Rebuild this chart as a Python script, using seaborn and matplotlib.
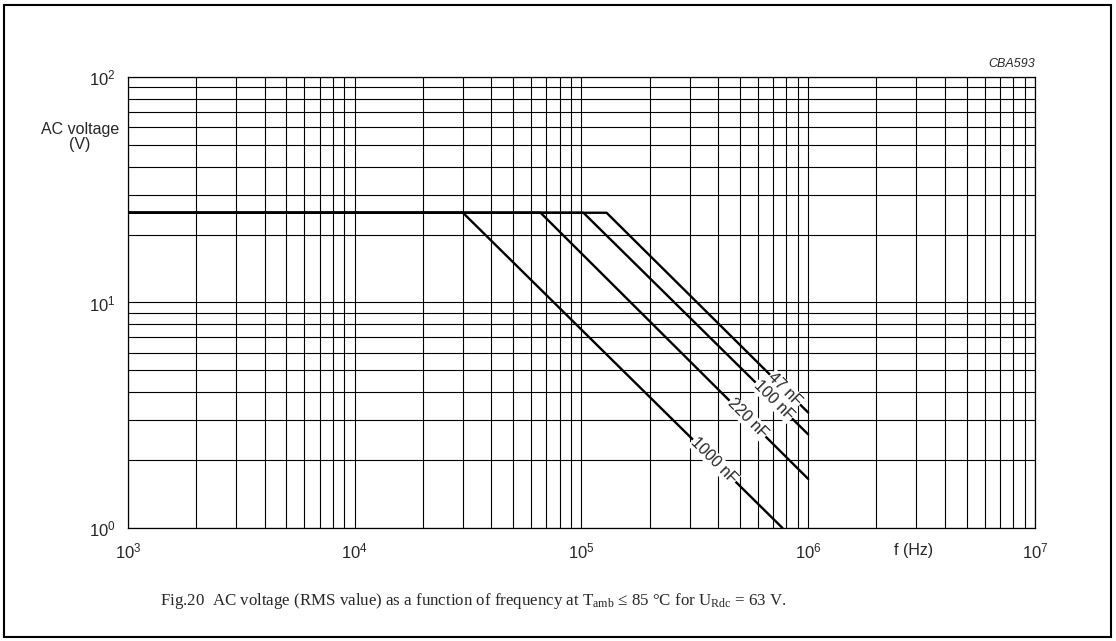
import numpy as np
import pandas as pd
import matplotlib
matplotlib.use("Agg")
import matplotlib.pyplot as plt
import matplotlib.ticker as mticker
from matplotlib.patches import Rectangle
import seaborn as sns

# curves: plateau at 25 V, then -1 slope down to the end point
capacitors = ["47 nF", "100 nF", "220 nF", "1000 nF"]
f_start = [1e3, 1e3, 1e3, 1e3]
v_plateau = [25, 25, 25, 25]
f_break = [1.29e5, 1.02e5, 6.6e4, 3.0e4]
f_end = [1e6, 1e6, 1e6, 7.7e5]
v_end = [3.25, 2.6, 1.65, 1.0]
label_f = [7.9e5, 7.05e5, 5.4e5, 3.85e5]

x_ticks = [1e3, 1e4, 1e5, 1e6, 1e7]
x_ticklabels = ["$\\mathregular{10^{3}}$", "$\\mathregular{10^{4}}$", "$\\mathregular{10^{5}}$",
                "$\\mathregular{10^{6}}$", "$\\mathregular{10^{7}}$"]
y_ticks = [1, 10, 100]
y_ticklabels = ["$\\mathregular{10^{0}}$", "$\\mathregular{10^{1}}$", "$\\mathregular{10^{2}}$"]

rows = []
for i, cap in enumerate(capacitors):
    rows.append((cap, 0, f_start[i], v_plateau[i]))
    rows.append((cap, 1, f_break[i], v_plateau[i]))
    rows.append((cap, 2, f_end[i], v_end[i]))
df = pd.DataFrame(rows, columns=["cap", "order", "f", "V"])

sns.set_style("white")
plt.rcParams["font.family"] = ["Liberation Sans", "DejaVu Sans"]
plt.rcParams["mathtext.default"] = "regular"

fig = plt.figure(figsize=(11.16, 6.41), dpi=100)
ax = fig.add_axes([0.1147, 0.1763, 0.8127, 0.7036])

ax.set_xscale("log")
ax.set_yscale("log")
ax.set_xlim(1e3, 1e7)
ax.set_ylim(1, 100)

ax.xaxis.set_major_locator(mticker.FixedLocator(x_ticks))
ax.xaxis.set_major_formatter(mticker.FixedFormatter(x_ticklabels))
ax.yaxis.set_major_locator(mticker.FixedLocator(y_ticks))
ax.yaxis.set_major_formatter(mticker.FixedFormatter(y_ticklabels))
ax.xaxis.set_minor_locator(mticker.LogLocator(base=10, subs=range(2, 10)))
ax.yaxis.set_minor_locator(mticker.LogLocator(base=10, subs=range(2, 10)))
ax.xaxis.set_minor_formatter(mticker.NullFormatter())
ax.yaxis.set_minor_formatter(mticker.NullFormatter())
ax.tick_params(which="both", length=0, labelsize=12)
ax.tick_params(axis="x", pad=10)
ax.tick_params(axis="y", pad=9)

ax.grid(which="both", color="black", lw=0.8)
ax.set_axisbelow(True)
for s in ax.spines.values():
    s.set_color("black")
    s.set_linewidth(0.9)

sns.lineplot(data=df, x="f", y="V", units="cap", estimator=None, sort=False,
             color="black", lw=1.7, ax=ax, legend=False)
ax.set_xlabel("")
ax.set_ylabel("")

# capacitor labels sit on their own line, white box breaks the line
for i, cap in enumerate(capacitors):
    lf = np.log10([f_start[i], f_break[i], f_end[i]])
    lv = np.log10([v_plateau[i], v_plateau[i], v_end[i]])
    yv = 10 ** np.interp(np.log10(label_f[i]), lf, lv)
    ax.text(label_f[i], yv, cap, rotation=-45, rotation_mode="anchor",
            ha="center", va="center", fontsize=11.5,
            bbox=dict(facecolor="white", edgecolor="none", pad=0.5), zorder=5)

fig.text(80 / 1116, 1 - 137 / 641, "AC voltage\n(V)", ha="center", va="center",
         fontsize=11.5, linespacing=1.0)
fig.text(914 / 1116, 1 - 550 / 641, "f (Hz)", ha="center", va="center", fontsize=11.5)
fig.text(1035 / 1116, 1 - 64 / 641, "CBA593", ha="right", va="center",
         fontsize=9, style="italic")
fig.text(160 / 1116, 1 - 601 / 641,
         "Fig.20  AC voltage (RMS value) as a function of frequency at "
         "$\\mathregular{T_{amb}}$ ≤ 85 °C for $\\mathregular{U_{Rdc}}$ = 63 V.",
         ha="left", va="center", fontsize=12.2, family=["Liberation Serif", "DejaVu Serif"])

fig.patches.append(Rectangle((4 / 1116, 4 / 641), 1 - 9 / 1116, 1 - 9 / 641,
                             transform=fig.transFigure, fill=False, lw=1.5,
                             edgecolor="black"))

fig.savefig("out.png", dpi=100)
